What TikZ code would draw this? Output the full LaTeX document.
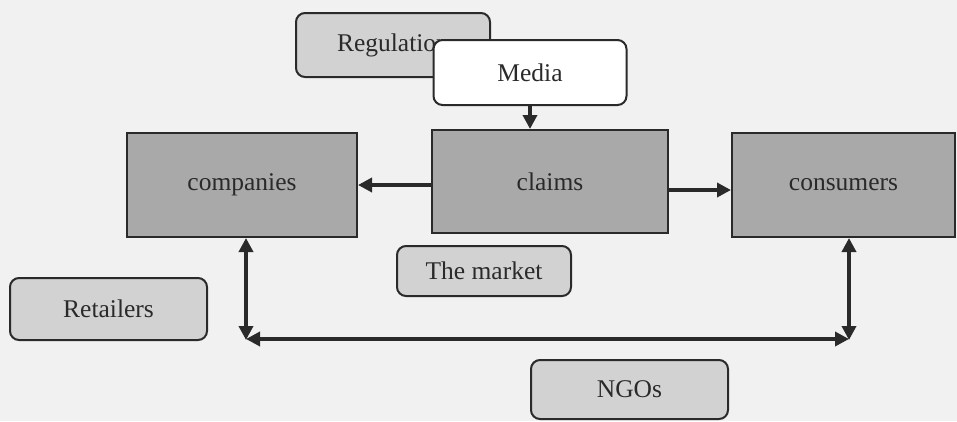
\documentclass[tikz,border=0pt]{standalone}
\usepackage{fontspec}
\setmainfont{Liberation Serif}
\usetikzlibrary{arrows.meta}
\definecolor{paper}{HTML}{F1F1F1}
\definecolor{boxdark}{HTML}{A9A9A9}
\definecolor{boxlight}{HTML}{D2D2D2}
\definecolor{ink}{HTML}{2A2A2A}
\tikzset{
  base/.style={draw=ink, line width=2pt, text=ink, font=\fontsize{25.5}{30}\selectfont, inner sep=0pt},
  mainbox/.style={base, fill=boxdark},
  actor/.style={base, fill=boxlight, rounded corners=9pt},
  plainactor/.style={base, fill=white, rounded corners=9pt},
  tip/.style={Triangle[length=14pt,width=14pt]},
  link/.style={draw=ink, line width=3.5pt, -{Triangle[length=14pt,width=14pt]}},
  dlink/.style={draw=ink, line width=3.5pt, {Triangle[length=14pt,width=14pt]}-{Triangle[length=14pt,width=14pt]}}
}
\begin{document}
\begin{tikzpicture}[x=1pt, y=-1pt]
  \fill[paper] (0,0) rectangle (957,421);
  \useasboundingbox (0,0) rectangle (957,421);

  % outer actors
  \node[actor, minimum width=194pt, minimum height=64pt] (regulation) at (393,45) {Regulation};
  \node[plainactor, minimum width=193pt, minimum height=65pt] (media) at (530,72.5) {Media};
  \node[actor, minimum width=174pt, minimum height=50pt] (market) at (484,271) {The market};
  \node[actor, minimum width=197pt, minimum height=62pt] (retailers) at (108.5,309) {Retailers};
  \node[actor, minimum width=197pt, minimum height=59pt] (ngos) at (629.5,389.5) {NGOs};

  % main chain
  \node[mainbox, minimum width=230pt, minimum height=104pt] (companies) at (242,185) {companies};
  \node[mainbox, minimum width=236pt, minimum height=103pt] (claims) at (550,181.5) {claims};
  \node[mainbox, minimum width=223pt, minimum height=104pt] (consumers) at (843.5,185) {consumers};

  % connectors
  \draw[link] (media.south) -- (media.south |- claims.north);
  \draw[link] (claims.west |- companies.east) -- (companies.east);
  \draw[link] ([yshift=-5pt]claims.east |- consumers.west) -- ([yshift=-5pt]consumers.west);

  \coordinate (bl) at (246,339);
  \coordinate (br) at (849,339);
  \draw[dlink] (companies.south -| bl) -- ([yshift=-1pt]bl);
  \draw[dlink] (consumers.south -| br) -- ([yshift=-1pt]br);
  \draw[dlink] (bl) -- (br);
\end{tikzpicture}
\end{document}
